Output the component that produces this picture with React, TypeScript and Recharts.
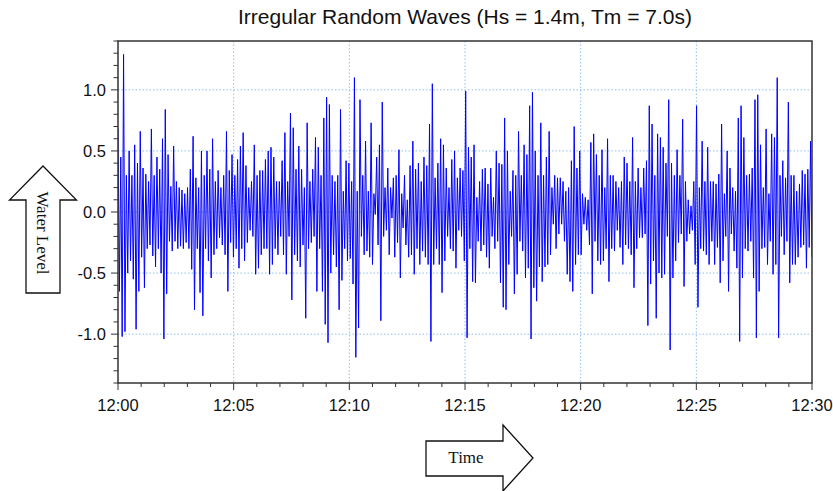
import React from 'react';
import { LineChart, Line, XAxis, YAxis, CartesianGrid } from 'recharts';

// Water level extremes (m), in 3-minute blocks
const seg0 = [0.68,-0.65,0.45,-1.02,1.29,-0.98,0.3,-0.5,0.5,-0.4,0.3,-0.55,0.55,-0.96,0.4,-0.65,0.66,-0.37,0.36,-0.62,0.31,-0.3,0.25,-0.27,0.68,-0.36,0.3,-0.45,0.45,-0.3,0.35,-0.5,0.6,-1.04,0.84,-0.67,0.47,-0.24,0.21,-0.32,0.54,-0.24,0.25,-0.3,0.2,-0.28,0.18,-0.3,0.15,-0.25];
const seg1 = [0.2,-0.3,0.35,-0.47,0.62,-0.8,0.28,-0.3,0.2,-0.66,0.5,-0.85,0.3,-0.3,0.5,-0.4,0.35,-0.54,0.6,-0.35,0.25,-0.3,0.34,-0.21,0.2,-0.27,0.3,-0.35,0.66,-0.65,0.34,-0.25,0.47,-0.37,0.3,-0.3,0.43,-0.46,0.54,-0.3,0.65,-0.4,0.38,-0.25,0.2,-0.15,0.25,-0.2,0.55,-0.51];
const seg2 = [0.3,-0.46,0.34,-0.35,0.34,-0.3,0.43,-0.3,0.5,-0.51,0.53,-0.43,0.45,-0.3,0.25,-0.35,0.25,-0.2,0.42,-0.35,0.65,-0.51,0.25,-0.2,0.81,-0.72,0.69,-0.35,0.35,-0.4,0.54,-0.45,0.35,-0.27,0.2,-0.87,0.73,-0.3,0.25,-0.25,0.35,-0.2,0.61,-0.65,0.53,-0.3,0.3,-0.65,0.77,-0.92];
const seg3 = [0.94,-1.07,0.88,-0.5,0.3,-0.35,0.25,-0.45,0.3,-0.8,0.84,-0.56,0.17,-0.3,0.42,-0.4,0.4,-0.38,0.25,-0.59,1.1,-1.19,0.17,-0.95,0.92,-0.2,0.3,-0.35,0.58,-0.32,0.17,-0.37,0.73,-0.43,0.15,-0.02,0.45,-0.27,0.55,-0.89,0.9,-0.2,0.2,-0.15,0.36,-0.35,0.2,-0.05,0.28,-0.37];
const seg4 = [0.3,-0.25,0.51,-0.54,0.15,-0.13,0.3,-0.27,0.1,-0.37,0.38,-0.35,0.58,-0.51,0.35,-0.3,0.4,-0.43,0.25,-0.32,0.45,-0.37,0.38,-0.43,0.72,-1.06,1.05,-0.43,0.28,-0.3,0.4,-0.43,0.6,-0.66,0.55,-0.4,0.36,-0.2,0.2,-0.3,0.43,-0.32,0.5,-0.46,0.28,-0.15,0.36,-0.2,0.34,-0.4];
const seg5 = [0.99,-1.03,0.53,-0.3,0.45,-0.57,0.55,-0.58,0.12,-0.24,0.25,-0.32,0.35,-0.27,0.36,-0.37,0.23,-0.46,0.36,-0.2,0.12,-0.3,0.5,-0.24,0.4,-0.58,0.39,-0.78,0.77,-0.8,0.5,-0.43,0.17,-0.2,0.34,-0.67,0.3,-0.51,0.66,-0.24,0.3,-0.32,0.55,-0.54,0.47,-0.46,0.87,-1.04,0.98,-0.62];
const seg6 = [0.5,-0.73,0.3,-0.45,0.73,-0.57,0.3,-0.45,0.45,-0.43,0.66,-0.35,0.2,-0.1,0.3,-0.3,0.28,-0.18,0.28,-0.1,0.25,-0.24,0.17,-0.51,0.2,-0.57,0.42,-0.65,0.7,-0.43,0.36,-0.35,0.5,-0.35,0.15,-0.1,0.12,-0.15,0.1,-0.27,0.57,-0.67,0.64,-0.24,0.47,-0.4,0.3,-0.43,0.51,-0.4];
const seg7 = [0.2,-0.3,0.6,-0.57,0.3,-0.3,0.3,-0.32,0.25,-0.15,0.2,-0.29,0.25,-0.43,0.45,-0.27,0.4,-0.3,0.25,-0.35,0.61,-0.62,0.25,-0.3,0.36,-0.21,0.2,-0.21,0.36,-0.18,0.42,-0.93,0.87,-0.59,0.72,-0.4,0.3,-0.87,0.64,-0.5,0.61,-0.54,0.53,-0.51,0.4,-0.2,0.92,-1.13,0.4,-0.54];
const seg8 = [0.3,-0.4,0.51,-0.25,0.3,-0.18,0.76,-0.61,0.25,-0.24,0.1,-0.18,0.05,-0.15,0.25,-0.43,0.87,-0.78,0.2,-0.3,0.58,-0.32,0.25,-0.35,0.53,-0.43,0.25,-0.24,0.25,-0.43,0.23,-0.29,0.31,-0.58,0.72,-0.4,0.15,-0.2,0.5,-0.65,0.36,-0.18,0.2,-0.32,0.17,-0.46,0.77,-1.06,0.87,-0.54];
const seg9 = [0.61,-0.3,0.3,-0.32,0.31,-0.24,0.36,-0.54,0.92,-1.03,0.96,-0.65,0.55,-0.3,0.2,-0.29,0.68,-0.43,0.15,-0.24,0.64,-0.51,0.61,-0.43,1.1,-1.03,0.3,-0.2,0.42,-0.35,0.28,-0.24,0.9,-0.58,0.3,-0.43,0.3,-0.43,0.17,-0.37,0.23,-0.29,0.34,-0.27,0.31,-0.46,0.35,-0.29,0.58,-0.37];

const waterLevel = [...seg0, ...seg1, ...seg2, ...seg3, ...seg4, ...seg5, ...seg6, ...seg7, ...seg8, ...seg9];
const DURATION_S = 1800;

const xMajorTicks = [0, 300, 600, 900, 1200, 1500, 1800];
const xTickLabels = ['12:00', '12:05', '12:10', '12:15', '12:20', '12:25', '12:30'];
const xMinorTicks = [0,60,120,180,240,300,360,420,480,540,600,660,720,780,840,900,960,1020,1080,1140,1200,1260,1320,1380,1440,1500,1560,1620,1680,1740,1800];
const yMajorTicks = [-1.0, -0.5, 0.0, 0.5, 1.0];
const yTickLabels = ['-1.0', '-0.5', '0.0', '0.5', '1.0'];
const yMinorTicks = [-1.4,-1.3,-1.2,-1.1,-1.0,-0.9,-0.8,-0.7,-0.6,-0.5,-0.4,-0.3,-0.2,-0.1,0,0.1,0.2,0.3,0.4,0.5,0.6,0.7,0.8,0.9,1.0,1.1,1.2,1.3,1.4];

const data = waterLevel.map((v, i) => ({ t: (i * DURATION_S) / (waterLevel.length - 1), v }));

const SANS = '"Liberation Sans", Arial, sans-serif';
const SERIF = '"Liberation Serif", "Times New Roman", serif';
const AXIS = '#333';

// chart layout
const W = 833;
const H = 491;
const MARGIN = { top: 41, right: 21, bottom: 68, left: 58 };
const Y_AXIS_W = 60;
const X_AXIS_H = 40;
const PLOT = {
  x: MARGIN.left + Y_AXIS_W,
  y: MARGIN.top,
  w: W - MARGIN.left - Y_AXIS_W - MARGIN.right,
  h: H - MARGIN.top - MARGIN.bottom - X_AXIS_H,
};

const XTick = (props: any) => {
  const { x, y, payload } = props;
  const idx = xMajorTicks.indexOf(payload.value);
  const major = idx >= 0;
  return (
    <g>
      <line x1={x} x2={x} y1={y} y2={y + (major ? 7 : 4)} stroke={AXIS} strokeWidth={1} />
      {major && (
        <text x={x} y={y + 28} textAnchor="middle" fontFamily={SANS} fontSize={16.5} fill="#111">
          {xTickLabels[idx]}
        </text>
      )}
    </g>
  );
};

const YTick = (props: any) => {
  const { x, y, payload } = props;
  let idx = -1;
  yMajorTicks.forEach((m, i) => { if (Math.abs(m - payload.value) < 1e-6) idx = i; });
  const major = idx >= 0;
  return (
    <g>
      <line x1={x} x2={x - (major ? 7 : 4.5)} y1={y} y2={y} stroke={AXIS} strokeWidth={1} />
      {major && (
        <text x={x - 12} y={y + 6} textAnchor="end" fontFamily={SANS} fontSize={16.5} fill="#111">
          {yTickLabels[idx]}
        </text>
      )}
    </g>
  );
};

export default function App() {
  return (
    <div style={{ position: 'absolute', left: 0, top: 0, width: W, height: H, background: '#fff' }}>
      <LineChart width={W} height={H} data={data} margin={MARGIN}>
        <CartesianGrid
          stroke="#8fbfee"
          strokeDasharray="1.5 2"
          horizontalValues={[-1.0, -0.5, 0, 0.5, 1.0]}
          verticalValues={[300, 600, 900, 1200, 1500]}
        />
        <XAxis
          dataKey="t"
          type="number"
          domain={[0, DURATION_S]}
          ticks={xMinorTicks}
          interval={0}
          tick={<XTick />}
          tickLine={false}
          axisLine={false}
          tickSize={0}
          tickMargin={0}
          height={X_AXIS_H}
          allowDataOverflow
        />
        <YAxis
          type="number"
          domain={[-1.4, 1.4]}
          ticks={yMinorTicks}
          interval={0}
          tick={<YTick />}
          tickLine={false}
          axisLine={false}
          tickSize={0}
          tickMargin={0}
          width={Y_AXIS_W}
          allowDataOverflow
        />
        <Line
          type="linear"
          dataKey="v"
          stroke="#0000ff"
          strokeWidth={1}
          dot={false}
          activeDot={false}
          isAnimationActive={false}
        />
      </LineChart>
      <svg width={W} height={H} style={{ position: 'absolute', left: 0, top: 0, pointerEvents: 'none' }}>
        <rect x={PLOT.x} y={PLOT.y} width={PLOT.w} height={PLOT.h} fill="none" stroke={AXIS} strokeWidth={1.5} />
        <text x={465} y={24} textAnchor="middle" fontFamily={SANS} fontSize={21} fill="#111">
          Irregular Random Waves (Hs = 1.4m, Tm = 7.0s)
        </text>
        <polygon
          points="43,166 76.5,200 60,200 60,293 26,293 26,200 9.5,200"
          fill="#fff"
          stroke="#111"
          strokeWidth={1.3}
        />
        <text
          x={42}
          y={233}
          transform="rotate(90 42 233)"
          textAnchor="middle"
          dominantBaseline="central"
          fontFamily={SERIF}
          fontSize={17}
          fill="#111"
        >
          Water Level
        </text>
        <polygon
          points="426,441 503,441 503,425 533,458 503,491 503,476 426,476"
          fill="#fff"
          stroke="#111"
          strokeWidth={1.3}
        />
        <text x={466} y={463} textAnchor="middle" fontFamily={SERIF} fontSize={17} fill="#111">
          Time
        </text>
      </svg>
    </div>
  );
}
